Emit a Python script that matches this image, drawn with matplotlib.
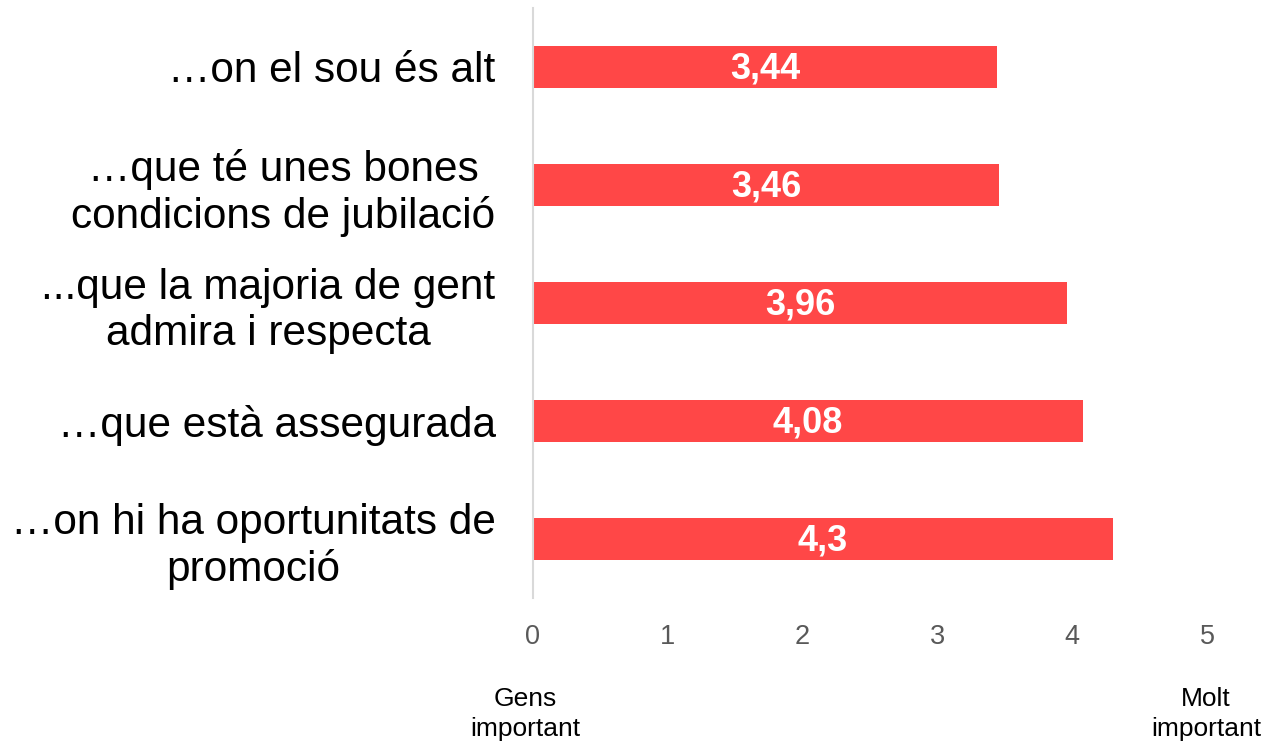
import matplotlib
matplotlib.use("Agg")
import matplotlib.pyplot as plt

categories = [
    "…on el sou és alt",
    "…que té unes bones\ncondicions de jubilació",
    "...que la majoria de gent\nadmira i respecta",
    "…que està assegurada",
    "…on hi ha oportunitats de\npromoció",
]
values = [3.44, 3.46, 3.96, 4.08, 4.3]
value_labels = ["3,44", "3,46", "3,96", "4,08", "4,3"]
xticks = [0, 1, 2, 3, 4, 5]

plt.rcParams['font.family'] = ['Liberation Sans', 'DejaVu Sans']

W, H = 1278, 745
fig = plt.figure(figsize=(W / 100, H / 100), dpi=100)
ax = fig.add_axes([533 / W, 1 - 598 / H, (1207 - 533) / W, (598 - 8) / H])

ypos = list(range(len(categories)))
ax.barh(ypos, values, height=0.355, color="#FF4747", zorder=2)
for y, v, lab in zip(ypos, values, value_labels):
    ax.text(v / 2, y + 0.02, lab, ha="center", va="center", color="white",
            fontsize=26, fontweight="bold", zorder=3)

ax.set_xlim(0, 5)
ax.set_ylim(len(categories) - 0.5, -0.5)
ax.set_yticks(ypos)
ax.set_yticklabels(categories, fontsize=30.5, color="black", linespacing=1.2)
for t in ax.get_yticklabels():
    t.set_multialignment("center")
ax.set_xticks(xticks)
ax.set_xticklabels([str(x) for x in xticks], fontsize=19.5, color="#595959")
ax.tick_params(axis="both", length=0)
ax.tick_params(axis="x", pad=19)
ax.tick_params(axis="y", pad=27)

for s in ["top", "right", "bottom"]:
    ax.spines[s].set_visible(False)
ax.spines["left"].set_color("#d9d9d9")
ax.spines["left"].set_linewidth(1.5)

fig.text(525 / W, 1 - 714 / H, "Gens\nimportant", ha="center", va="center",
         fontsize=19, color="black", linespacing=1.35)
fig.text(1206 / W, 1 - 714 / H, "Molt\nimportant", ha="center", va="center",
         fontsize=19, color="black", linespacing=1.35)

fig.savefig("out.png", dpi=100)
